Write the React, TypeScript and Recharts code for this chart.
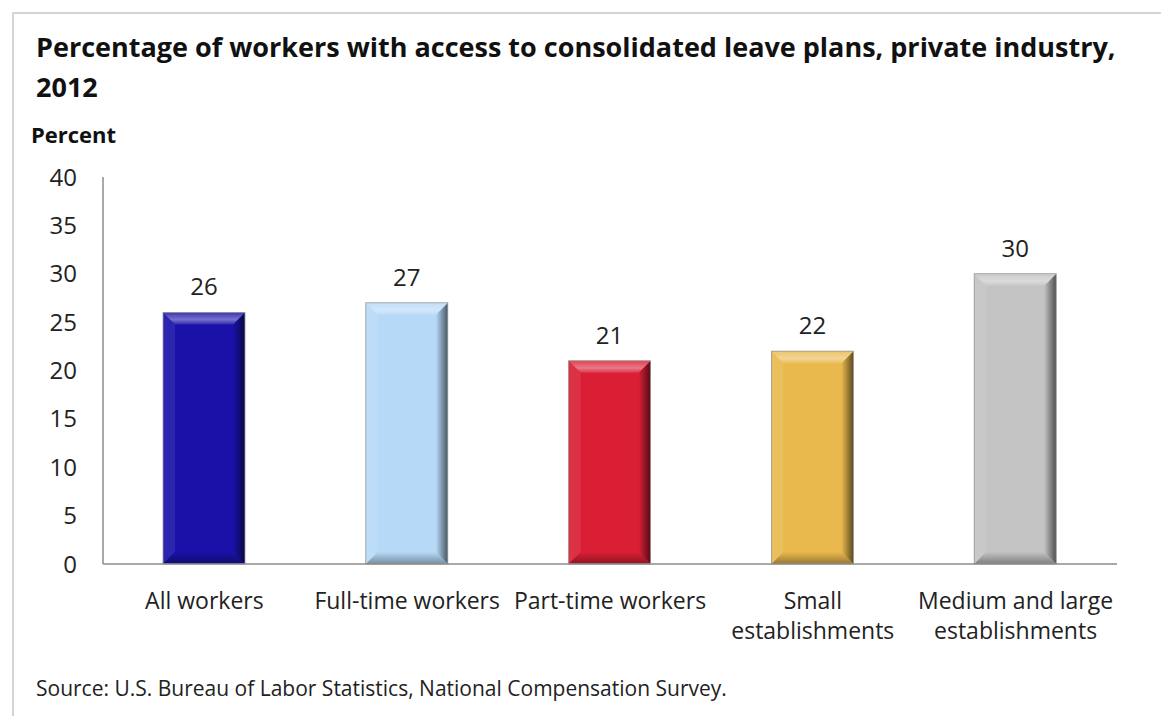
import React from "react";
import { BarChart, Bar, XAxis, YAxis, Cell, LabelList } from "recharts";

const categories = [
  "All workers",
  "Full-time workers",
  "Part-time workers",
  "Small\nestablishments",
  "Medium and large\nestablishments",
];
const percents = [26, 27, 21, 22, 30];
const yTicks = [0, 5, 10, 15, 20, 25, 30, 35, 40];

const barColors = ["#1a12a8", "#b6d9f7", "#da1f35", "#e9b94e", "#c3c3c3"];

const data = categories.map((name, i) => ({ name, value: percents[i] }));

const FONT = "'Open Sans', Lato, sans-serif";
const TEXT = "#222";

function mix(hex: string, target: string, t: number) {
  const a = parseInt(hex.slice(1), 16);
  const b = parseInt(target.slice(1), 16);
  const ch = (v: number, s: number) => (v >> s) & 255;
  const m = (s: number) => Math.round(ch(a, s) * (1 - t) + ch(b, s) * t);
  return `rgb(${m(16)},${m(8)},${m(0)})`;
}

// bevelled bar, like the old Excel "button" style
const BevelBar = (props: any) => {
  const { x, y, width: w, height: h, fill, index } = props;
  if (!h || h <= 0) return null;
  const b = Math.min(12, w / 4, h / 4);
  const id = `bev${index}`;
  return (
    <g>
      <defs>
        <linearGradient id={`${id}r`} x1="0" y1="0" x2="1" y2="0">
          <stop offset="0%" stopColor={fill} />
          <stop offset="100%" stopColor={mix(fill, "#000000", 0.6)} />
        </linearGradient>
        <linearGradient id={`${id}t`} x1="0" y1="0" x2="0" y2="1">
          <stop offset="0%" stopColor={mix(fill, "#ffffff", 0.15)} />
          <stop offset="60%" stopColor={mix(fill, "#ffffff", 0.4)} />
          <stop offset="100%" stopColor={mix(fill, "#ffffff", 0.1)} />
        </linearGradient>
        <linearGradient id={`${id}b`} x1="0" y1="0" x2="0" y2="1">
          <stop offset="0%" stopColor={fill} />
          <stop offset="100%" stopColor={mix(fill, "#000000", 0.35)} />
        </linearGradient>
      </defs>
      <rect x={x} y={y} width={w} height={h} fill={fill} />
      <polygon
        points={`${x},${y} ${x + b},${y + b} ${x + b},${y + h - b} ${x},${y + h}`}
        fill={mix(fill, "#ffffff", 0.08)}
      />
      <polygon
        points={`${x},${y + h} ${x + b},${y + h - b} ${x + w - b},${y + h - b} ${x + w},${y + h}`}
        fill={`url(#${id}b)`}
      />
      <polygon
        points={`${x + w},${y} ${x + w - b},${y + b} ${x + w - b},${y + h - b} ${x + w},${y + h}`}
        fill={`url(#${id}r)`}
      />
      <polygon
        points={`${x},${y} ${x + w},${y} ${x + w - b},${y + b} ${x + b},${y + b}`}
        fill={`url(#${id}t)`}
      />
      <rect x={x} y={y} width={w} height={h} fill="none" stroke="#9a9a9a" strokeWidth={0.8} />
    </g>
  );
};

const CategoryTick = (props: any) => {
  const { x, y, payload } = props;
  const lines = String(payload.value).split("\n");
  return (
    <text x={x} y={y} textAnchor="middle" fill={TEXT} fontFamily={FONT} fontSize={23}>
      {lines.map((l, i) => (
        <tspan key={i} x={x} dy={i === 0 ? 45 : 30}>
          {l}
        </tspan>
      ))}
    </text>
  );
};

export default function App() {
  return (
    <div
      style={{
        position: "fixed",
        left: 0,
        top: 0,
        width: 1161,
        height: 716,
        background: "#fff",
        overflow: "hidden",
      }}
    >
      <div
        style={{
          position: "absolute",
          left: 12,
          top: 12,
          width: 1200,
          height: 760,
          border: "2px solid #d4d4d4",
        }}
      />
      <BarChart
        width={1161}
        height={716}
        data={data}
        margin={{ top: 177, right: 44, bottom: 92, left: 43 }}
        style={{ position: "absolute", left: 0, top: 0 }}
      >
        <XAxis
          dataKey="name"
          axisLine={{ stroke: "#8c8c8c", strokeWidth: 1.5 }}
          tickLine={false}
          tickSize={0}
          tickMargin={0}
          height={60}
          interval={0}
          tick={<CategoryTick />}
        />
        <YAxis
          domain={[0, 40]}
          ticks={yTicks}
          width={60}
          axisLine={{ stroke: "#8c8c8c", strokeWidth: 1.5 }}
          tickLine={false}
          tickSize={0}
          tickMargin={26}
          tick={{ fill: TEXT, fontSize: 24, fontFamily: FONT }}
        />
        <Bar dataKey="value" barSize={82} isAnimationActive={false} shape={<BevelBar />}>
          {data.map((_, i) => (
            <Cell key={i} fill={barColors[i]} />
          ))}
          <LabelList
            dataKey="value"
            position="top"
            offset={17}
            fill={TEXT}
            fontSize={24}
            fontFamily={FONT}
          />
        </Bar>
      </BarChart>
      <svg
        width={1161}
        height={716}
        style={{ position: "absolute", left: 0, top: 0, pointerEvents: "none" }}
      >
        <g fontFamily={FONT} fill="#111">
          <text x={36} y={57} fontSize={27} fontWeight="bold">
            Percentage of workers with access to consolidated leave plans, private industry,
          </text>
          <text x={36} y={97} fontSize={27} fontWeight="bold">
            2012
          </text>
          <text x={31} y={143} fontSize={22} fontWeight="bold">
            Percent
          </text>
          <text x={36} y={696} fontSize={21} fill={TEXT}>
            Source: U.S. Bureau of Labor Statistics, National Compensation Survey.
          </text>
        </g>
      </svg>
    </div>
  );
}
